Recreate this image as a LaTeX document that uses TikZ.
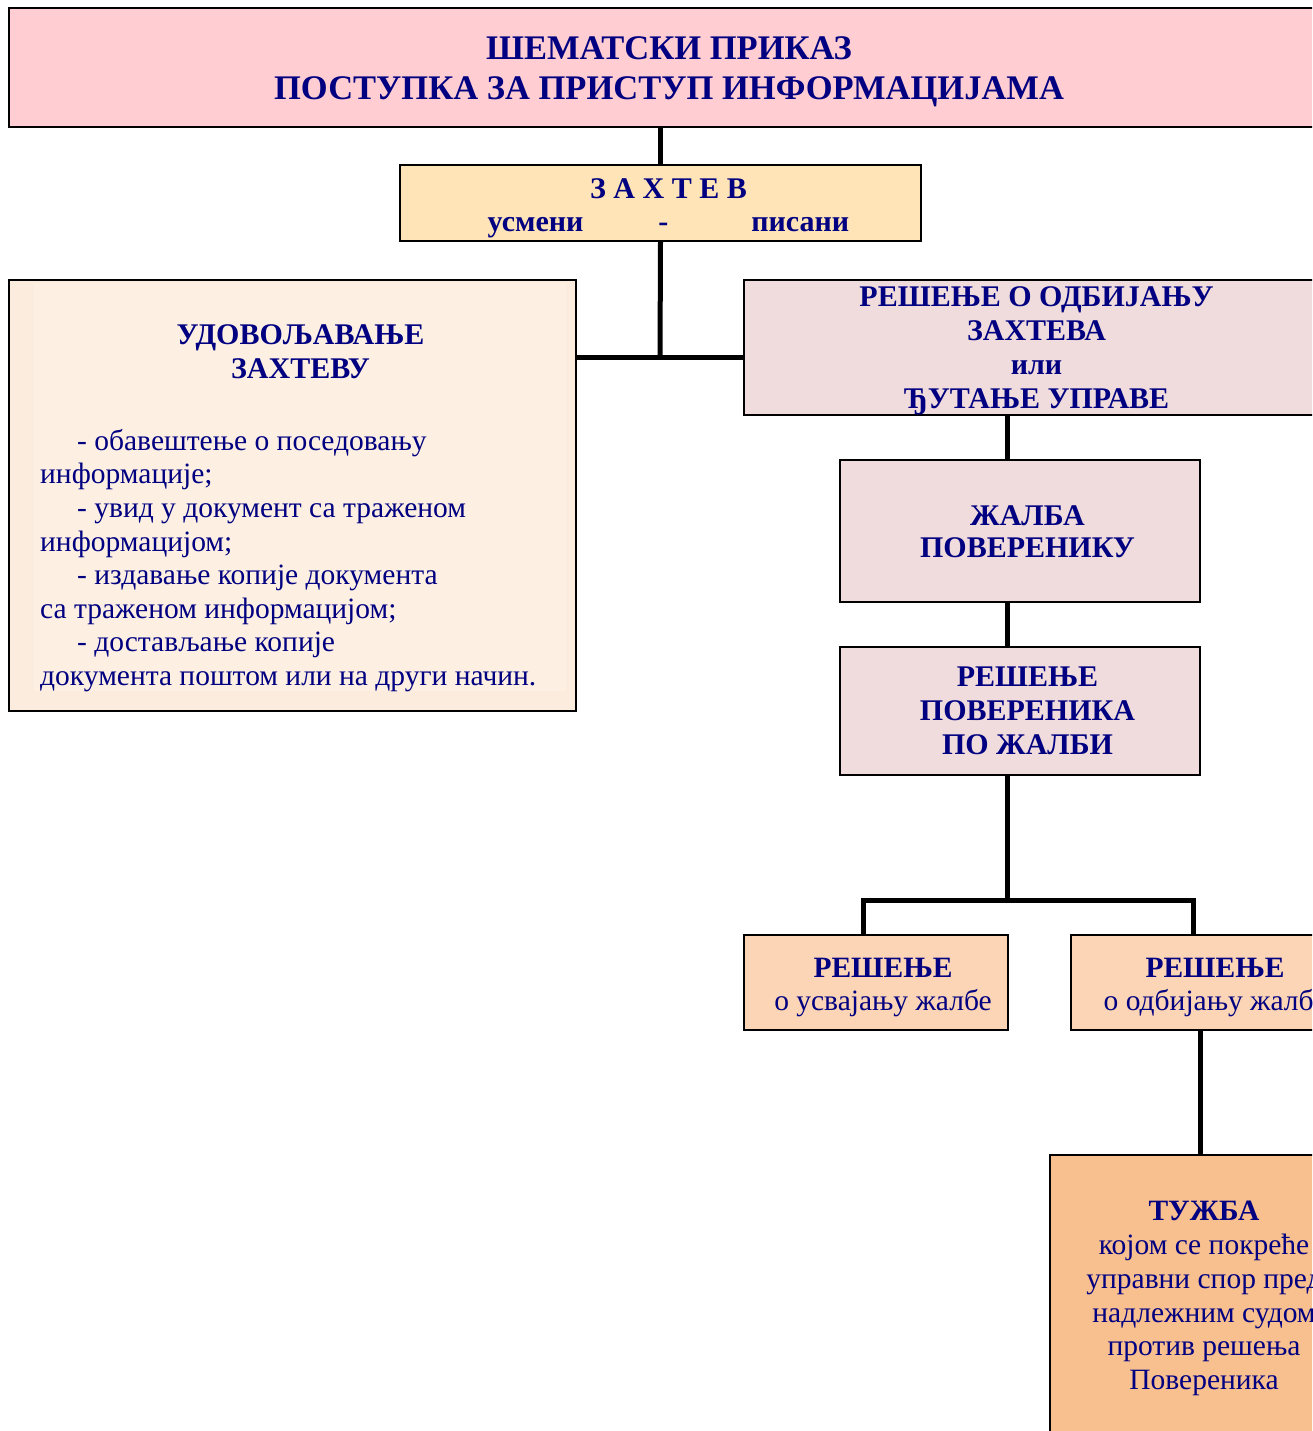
\documentclass[tikz,border=0pt]{standalone}
\usepackage{fontspec}
\setmainfont{Liberation Serif}
\definecolor{navytext}{RGB}{0,0,128}
\definecolor{titlefill}{RGB}{255,205,210}
\definecolor{reqfill}{RGB}{255,228,184}
\definecolor{leftouter}{RGB}{252,236,222}
\definecolor{leftinner}{RGB}{253,240,227}
\definecolor{rosefill}{RGB}{240,220,220}
\definecolor{peachfill}{RGB}{251,213,181}
\definecolor{orangefill}{RGB}{248,191,143}
\begin{document}
\begin{tikzpicture}[x=1pt,y=-1pt,
  box/.style={draw=black, line width=2pt, rectangle, inner sep=0pt, outer sep=0pt},
  conn/.style={draw=black, line width=5pt},
  txt/.style={text=navytext, align=center, inner sep=0pt, font=\fontsize{29.5}{34}\selectfont},
  ttl/.style={text=navytext, align=center, inner sep=0pt, font=\fontsize{34.5}{40}\selectfont\bfseries}]
\useasboundingbox (0,0) rectangle (1312,1431);
\clip (0,0) rectangle (1312,1431);
\fill[white] (0,0) rectangle (1312,1431);

% boxes
\node[box, fill=titlefill, minimum width=1320pt, minimum height=119pt] (tb) at (669,67.5) {};
\node[box, fill=reqfill, minimum width=521pt, minimum height=76pt] (zb) at (660.5,203) {};
\node[box, fill=leftouter, minimum width=567pt, minimum height=431pt] (lb) at (292.5,495.5) {};
\fill[leftinner] (34,283) rectangle (566,691);
\node[box, fill=rosefill, minimum width=584pt, minimum height=135pt] (r1) at (1036,347.5) {};
\node[box, fill=rosefill, minimum width=360pt, minimum height=142pt] (zal) at (1020,531) {};
\node[box, fill=rosefill, minimum width=360pt, minimum height=128pt] (rp) at (1020,711) {};
\node[box, fill=peachfill, minimum width=264pt, minimum height=95pt] (usv) at (876,982.5) {};
\node[box, fill=peachfill, minimum width=288pt, minimum height=95pt] (odb) at (1215,982.5) {};
\node[box, fill=orangefill, minimum width=308pt, minimum height=290pt] (tz) at (1204,1300) {};

% texts
\node[ttl] (tbt) at (669,72) {ШЕМАТСКИ ПРИКАЗ\\ПОСТУПКА ЗА ПРИСТУП ИНФОРМАЦИЈАМА};
\node[txt, font=\fontsize{30}{33}\selectfont\bfseries] (zbt) at (668.5,208) {З А Х Т Е В\\усмени\hspace{75pt}-\hspace{83pt}писани};
\node[txt, font=\fontsize{30}{34}\selectfont\bfseries] (lbh) at (300.5,351.5) {УДОВОЉАВАЊЕ\\ЗАХТЕВУ};
\node[txt, align=left, anchor=west, font=\fontsize{29.5}{33.6}\selectfont] (lbb) at (40,560.5) {\hspace*{37pt}- обавештење о поседовању\\
информације;\\
\hspace*{37pt}- увид у документ са траженом\\
информацијом;\\
\hspace*{37pt}- издавање копије документа\\
са траженом информацијом;\\
\hspace*{37pt}- достављање копије\\
документа поштом или на други начин.};
\node[txt, font=\fontsize{30}{34}\selectfont\bfseries] (r1t) at (1036.5,351) {РЕШЕЊЕ О ОДБИЈАЊУ\\ЗАХТЕВА\\или\\ЂУТАЊЕ УПРАВЕ};
\node[txt, font=\fontsize{30}{32}\selectfont\bfseries] (zalt) at (1027.5,532) {ЖАЛБА\\ПОВЕРЕНИКУ};
\node[txt, font=\fontsize{30}{34}\selectfont\bfseries] (rpt) at (1027.5,711) {РЕШЕЊЕ\\ПОВЕРЕНИКА\\ПО ЖАЛБИ};
\node[txt, font=\fontsize{29.5}{33}\selectfont] (usvt) at (883,987.5) {\textbf{РЕШЕЊЕ}\\о усвајању жалбе};
\node[txt, font=\fontsize{29.5}{33}\selectfont] (odbt) at (1215,987.5) {\textbf{РЕШЕЊЕ}\\о одбијању жалбе};
\node[txt, font=\fontsize{29.5}{33.8}\selectfont] (tzt) at (1204,1298.5) {\textbf{ТУЖБА}\\којом се покреће\\управни спор пред\\надлежним судом\\против решења\\Повереника};

% connectors
\coordinate (j1) at (660,357);
\coordinate (c1) at (1007,0);
\coordinate (j2) at (1007,900);
\coordinate (c2) at (863,900);
\coordinate (c3) at (1193,900);
\coordinate (c4) at (1200,0);
\draw[conn] (zb.north |- tb.south) -- (zb.north);
\draw[conn] (zb.south) -- (j1);
\draw[conn] (lb.east |- j1) -- (r1.west |- j1);
\draw[conn] (c1 |- r1.south) -- (c1 |- zal.north);
\draw[conn] (c1 |- zal.south) -- (c1 |- rp.north);
\draw[conn] (c1 |- rp.south) -- (j2);
\draw[conn] (c2 |- usv.north) -- (c2) -- (c3) -- (c3 |- odb.north);
\draw[conn] (c4 |- odb.south) -- (c4 |- tz.north);
\end{tikzpicture}
\end{document}
